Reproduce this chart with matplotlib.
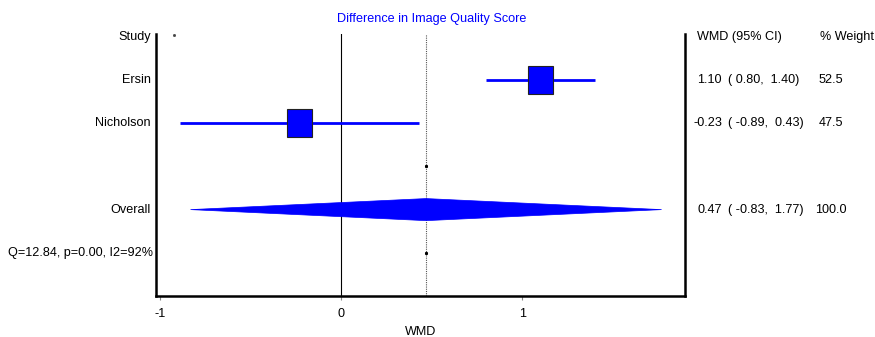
import numpy as np
import matplotlib.pyplot as plt
import matplotlib.transforms as mtransforms
from matplotlib.patches import Polygon, Rectangle

plt.rcParams['font.family'] = ['Liberation Sans', 'DejaVu Sans']

studies = ['Ersin', 'Nicholson']
wmd = [1.10, -0.23]
lower = [0.80, -0.89]
upper = [1.40, 0.43]
weights = [52.5, 47.5]

overall = 0.47
overall_lo = -0.83
overall_hi = 1.77
overall_weight = 100.0
het_text = 'Q=12.84, p=0.00, I2=92%'

blue = '#0000ff'
fs = 9.1

fig = plt.figure(figsize=(8.75, 3.37), dpi=100)
ax = fig.add_axes([0.178, 0.122, 0.605, 0.777])
ax.set_xlim(-1.022, 1.90)
ax.set_ylim(6, -0.07)

# reference lines
ax.axvline(0, color='black', lw=0.8)
ax.axvline(overall, color='#555555', lw=0.8, ls=(0, (1, 1)))
ax.plot([overall, overall], [3, 5], ls='none', marker='s', ms=1.2, color='black')
ax.plot([-0.92], [-0.05], ls='none', marker='s', ms=1.0, color='#444444', clip_on=False)

# studies
for i, (m, lo, hi) in enumerate(zip(wmd, lower, upper)):
    y = i + 1
    ax.plot([lo, hi], [y, y], color=blue, lw=2, solid_capstyle='butt')
    w = 25 / 181
    h = 28 / 43
    ax.add_patch(Rectangle((m - w / 2, y - h / 2), w, h, facecolor=blue,
                           edgecolor='#222222', lw=0.8, zorder=3))

# overall diamond
yo = 4
dh = 11 / 43
ax.add_patch(Polygon([[overall_lo, yo], [overall, yo - dh], [overall_hi, yo], [overall, yo + dh]],
                     closed=True, facecolor=blue, edgecolor=blue, lw=0.5, zorder=3))

# spines and ticks
ax.spines['top'].set_visible(False)
for s in ['left', 'bottom', 'right']:
    ax.spines[s].set_linewidth(1.8)
ax.set_yticks([])
ax.set_xticks([-1, 0, 1])
ax.set_xticklabels(['-1', '0', '1'], fontsize=fs)
ax.tick_params(axis='x', length=3, color='#888888', direction='out', pad=6)
ax.set_xlabel('WMD', fontsize=fs, labelpad=4)
fig.text(432 / 875, 1 - 19 / 337, 'Difference in Image Quality Score', color=blue,
         fontsize=fs, ha='center', va='center')

# left labels
trans = mtransforms.blended_transform_factory(fig.transFigure, ax.transData)
left_labels = ['Study'] + studies + ['', 'Overall']
for i, lab in enumerate(left_labels):
    ax.text(151 / 875, i, lab, transform=trans, ha='right', va='center', fontsize=fs)
ax.text(153 / 875, 5, het_text, transform=trans, ha='right', va='center', fontsize=fs)

# right columns
def fx(px):
    return px / 875

ax.text(fx(697), 0, 'WMD (95% CI)', transform=trans, ha='left', va='center', fontsize=fs)
ax.text(fx(820), 0, '% Weight', transform=trans, ha='left', va='center', fontsize=fs)

rows = list(zip(wmd, lower, upper, weights)) + [(overall, overall_lo, overall_hi, overall_weight)]
row_y = [1, 2, 4]
for y, (m, lo, hi, wt) in zip(row_y, rows):
    ax.text(fx(722), y, '%.2f' % m, transform=trans, ha='right', va='center', fontsize=fs)
    ax.text(fx(728), y, '( %.2f,  %.2f)' % (lo, hi), transform=trans, ha='left',
            va='center', fontsize=fs)
    ax.text(fx(831), y, '%.1f' % wt, transform=trans, ha='center', va='center', fontsize=fs)

fig.savefig('out.png', dpi=100)
